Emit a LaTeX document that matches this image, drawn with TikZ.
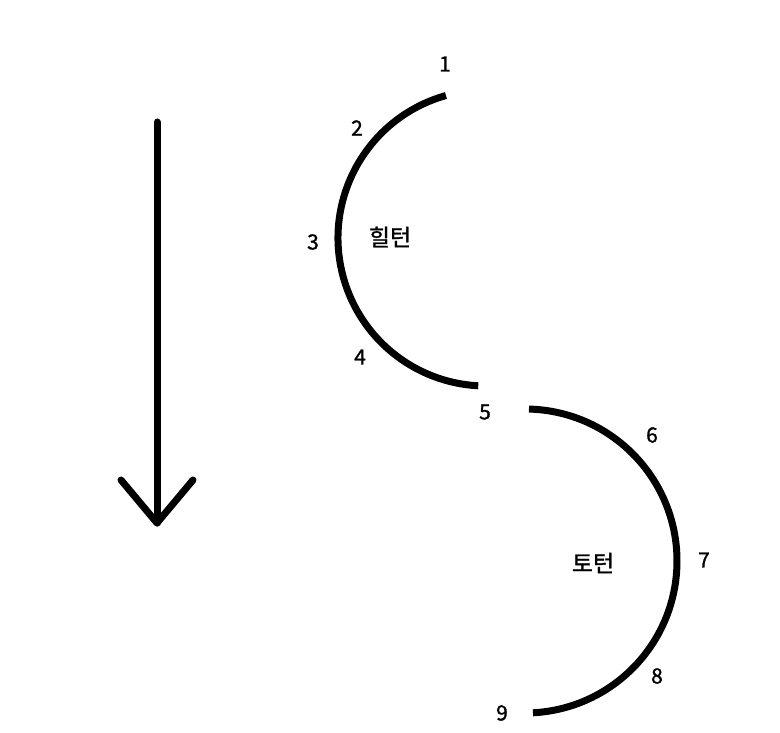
\documentclass[tikz,border=0pt]{standalone}
\usepackage{fontspec}
\setmainfont{Noto Sans CJK KR}
\newfontfamily\lblfont{Noto Sans CJK KR}[BoldFont={Noto Sans CJK KR},BoldFeatures={FakeBold=1.2}]
\begin{document}
\begin{tikzpicture}[x=1pt,y=1pt,
  curve/.style={line width=7pt,black},
  arrowline/.style={line width=7pt,black,line cap=round,line join=round},
  num/.style={font=\lblfont\bfseries\fontsize{21}{25}\selectfont,inner sep=0pt},
  word/.style={font=\lblfont\bfseries\fontsize{23}{27}\selectfont,inner sep=0pt}]
\useasboundingbox[fill=white] (0,0) rectangle (780,-733);
% down arrow
\coordinate (atop) at (157,-122);
\coordinate (atip) at (157,-523);
\coordinate (al) at (121,-480);
\coordinate (ar) at (193,-480);
\draw[arrowline] (atop) -- (atip);
\draw[arrowline] (al) -- (atip) -- (ar);
% heel turn arc
\coordinate (hc) at (486,-238);
\draw[curve] ([shift={(hc)}]105.7:148pt) arc[start angle=105.7,end angle=267,radius=148pt];
% toe turn arc
\coordinate (tc) at (525,-561);
\draw[curve] ([shift={(tc)}]88.5:152pt) arc[start angle=88.5,end angle=-87,radius=152pt];
% labels
\node[num] (n1) at (445,-64) {1};
\node[num] (n2) at (357,-128) {2};
\node[num] (n3) at (313,-242) {3};
\node[num] (n4) at (360,-357) {4};
\node[num] (n5) at (485,-412) {5};
\node[num] (n6) at (652,-435) {6};
\node[num] (n7) at (704,-560) {7};
\node[num] (n8) at (657,-676) {8};
\node[num] (n9) at (502,-713) {9};
\node[word] (heel) at (390,-237) {힐턴};
\node[word] (toe) at (593,-563) {토턴};
\end{tikzpicture}
\end{document}
